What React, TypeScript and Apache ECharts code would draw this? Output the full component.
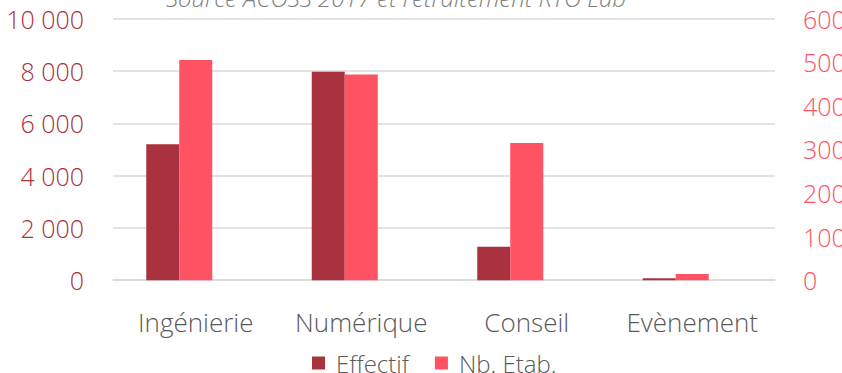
import React, { useEffect, useRef } from "react";
import * as echarts from "echarts";

const categories = ["Ingénierie", "Numérique", "Conseil", "Evènement"];
const effectif = [5200, 7970, 1280, 70];
const nbEtab = [505, 472, 315, 14];
const leftTicks = { min: 0, max: 10000, interval: 2000 };
const rightTicks = { min: 0, max: 600, interval: 100 };
const sourceText = "Source ACOSS 2017 et retraitement RTO Lab";

const FONT = "Open Sans";
const DARK = "#A8323E";
const LIGHT = "#FF5263";

function fmt(v: number) {
  return String(v).replace(/\B(?=(\d{3})+(?!\d))/g, " ");
}

export default function App() {
  const ref = useRef<HTMLDivElement>(null);
  useEffect(() => {
    if (!ref.current) return;
    const chart = echarts.init(ref.current, null, { renderer: "svg" });
    chart.setOption({
      animation: false,
      grid: {
        left: 113,
        right: 67,
        top: 18.7,
        bottom: 92.8,
        containLabel: false,
        outerBoundsMode: "none",
      },
      graphic: [
        {
          type: "text",
          x: 396,
          y: -3,
          style: {
            text: sourceText,
            fill: "#808080",
            fontFamily: FONT,
            fontStyle: "italic",
            fontWeight: 300,
            fontSize: 24,
            textAlign: "center",
            textVerticalAlign: "middle",
          },
        },
      ],
      legend: {
        data: ["Effectif", "Nb. Etab."],
        left: 307,
        top: 346,
        itemWidth: 13,
        itemHeight: 13,
        itemGap: 26,
        icon: "rect",
        textStyle: {
          fontFamily: FONT,
          fontWeight: 300,
          fontSize: 24,
          color: "#595959",
          padding: [0, 0, 0, 6],
        },
      },
      xAxis: {
        type: "category",
        data: categories,
        axisLine: { lineStyle: { color: "#d9d9d9", width: 1.5 } },
        axisTick: { show: false },
        axisLabel: {
          interval: 0,
          fontFamily: FONT,
          fontWeight: 300,
          fontSize: 26,
          color: "#595959",
          margin: 29,
        },
      },
      yAxis: [
        {
          type: "value",
          ...leftTicks,
          axisLine: { show: false },
          axisTick: { show: false },
          splitLine: { lineStyle: { color: "#d9d9d9", width: 1.5 } },
          axisLabel: {
            fontFamily: FONT,
            fontWeight: 300,
            fontSize: 25,
            color: DARK,
            margin: 29,
            formatter: (v: number) => fmt(v),
          },
        },
        {
          type: "value",
          ...rightTicks,
          axisLine: { show: false },
          axisTick: { show: false },
          splitLine: { show: false },
          axisLabel: { fontFamily: FONT, fontWeight: 300, fontSize: 25, color: LIGHT, margin: 28 },
        },
      ],
      series: [
        {
          name: "Effectif",
          type: "bar",
          yAxisIndex: 0,
          data: effectif,
          barWidth: 33,
          barGap: "0%",
          itemStyle: { color: DARK },
        },
        {
          name: "Nb. Etab.",
          type: "bar",
          yAxisIndex: 1,
          data: nbEtab,
          barWidth: 33,
          barGap: "0%",
          itemStyle: { color: LIGHT },
        },
        {
          name: "placeholder",
          type: "bar",
          yAxisIndex: 1,
          data: categories.map(() => null),
          barWidth: 33,
          barGap: "0%",
          silent: true,
        },
      ],
    });
    return () => chart.dispose();
  }, []);
  return <div ref={ref} style={{ width: 842, height: 373, position: "absolute", left: 0, top: 0 }} />;
}
